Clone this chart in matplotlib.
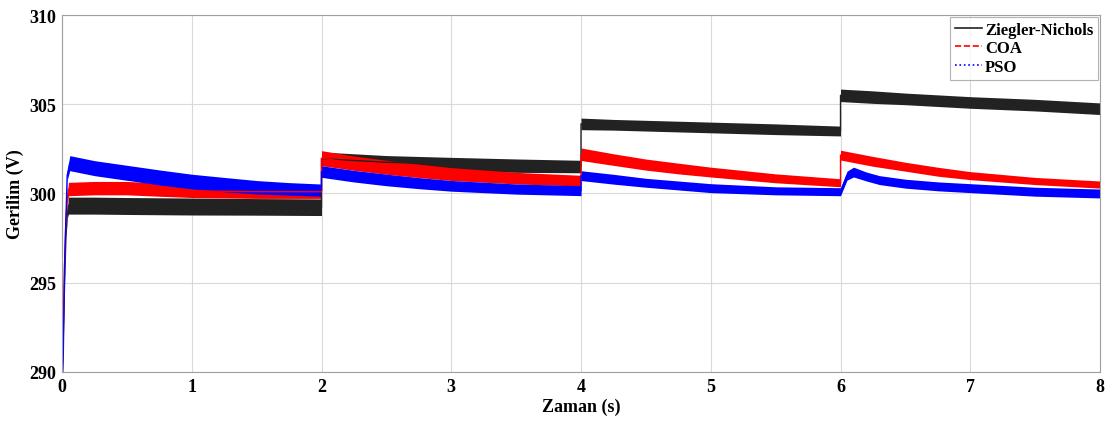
import matplotlib
matplotlib.use("Agg")
import matplotlib.pyplot as plt
import numpy as np

plt.rcParams['font.family'] = ['Liberation Serif', 'DejaVu Serif']
plt.rcParams['font.weight'] = 'bold'

# values: time (s), centre of ripple band (V), band width (V)
zn_t = [0, 0.02, 0.03, 0.04, 0.05, 0.25, 0.5, 1.0, 1.5, 2.0,
        2.0, 2.25, 2.5, 3.0, 3.5, 4.0,
        4.0, 4.25, 4.5, 5.0, 5.5, 6.0,
        6.0, 6.25, 6.5, 7.0, 7.5, 8.0]
zn_v = [289, 295, 297.5, 298.8, 299.32, 299.32, 299.3, 299.27, 299.25, 299.23,
        301.95, 301.85, 301.75, 301.65, 301.56, 301.51,
        303.9, 303.85, 303.8, 303.7, 303.6, 303.5,
        305.5, 305.4, 305.3, 305.1, 304.95, 304.75]
zn_w = [0, 0, 0, 0.4, 0.95, 0.95, 0.95, 0.95, 0.93, 0.93,
        0.75, 0.75, 0.75, 0.75, 0.75, 0.7,
        0.65, 0.6, 0.6, 0.6, 0.6, 0.55,
        0.7, 0.7, 0.65, 0.65, 0.65, 0.65]

coa_t = [0, 0.02, 0.03, 0.04, 0.05, 0.25, 0.5, 0.75, 1.0, 1.5, 2.0,
         2.0, 2.25, 2.5, 2.75, 3.0, 3.5, 4.0,
         4.0, 4.25, 4.5, 4.75, 5.0, 5.5, 6.0,
         6.0, 6.25, 6.5, 6.75, 7.0, 7.5, 8.0]
coa_v = [289, 296, 298.5, 299.6, 300.25, 300.3, 300.3, 300.22, 300.15, 300.1, 300.1,
         301.98, 301.7, 301.47, 301.27, 301.09, 300.86, 300.72,
         302.2, 301.9, 301.62, 301.4, 301.2, 300.85, 300.6,
         302.15, 301.8, 301.5, 301.22, 301.0, 300.7, 300.5]
coa_w = [0, 0, 0, 0.5, 0.75, 0.75, 0.75, 0.75, 0.75, 0.75, 0.75,
         0.84, 0.8, 0.78, 0.75, 0.72, 0.65, 0.6,
         0.7, 0.65, 0.62, 0.6, 0.55, 0.5, 0.45,
         0.55, 0.55, 0.5, 0.5, 0.45, 0.4, 0.4]

pso_t = [0, 0.01, 0.02, 0.04, 0.06, 0.25, 0.5, 0.75, 1.0, 1.25, 1.5, 1.75, 2.0,
         2.0, 2.25, 2.5, 2.75, 3.0, 3.5, 4.0,
         4.0, 4.25, 4.5, 4.75, 5.0, 5.5, 6.0,
         6.0, 6.05, 6.1, 6.2, 6.3, 6.5, 6.75, 7.0, 7.5, 8.0]
pso_v = [289, 291, 296, 301.0, 301.7, 301.42, 301.16, 300.9, 300.67, 300.5, 300.35, 300.26, 300.19,
         301.23, 300.97, 300.76, 300.58, 300.43, 300.25, 300.16,
         301.0, 300.8, 300.6, 300.45, 300.3, 300.15, 300.1,
         300.1, 301.0, 301.2, 300.95, 300.75, 300.55, 300.4, 300.3, 300.1, 300.0]
pso_w = [0, 0, 0, 0.5, 0.84, 0.84, 0.84, 0.84, 0.82, 0.8, 0.75, 0.7, 0.68,
         0.65, 0.65, 0.65, 0.62, 0.6, 0.57, 0.56,
         0.55, 0.55, 0.5, 0.5, 0.5, 0.45, 0.45,
         0.45, 0.5, 0.55, 0.5, 0.5, 0.5, 0.5, 0.5, 0.5, 0.5]

series = [
    ("Ziegler-Nichols", zn_t, zn_v, zn_w, "#222222", "-"),
    ("COA", coa_t, coa_v, coa_w, "#ff0000", "--"),
    ("PSO", pso_t, pso_v, pso_w, "#0000ff", ":"),
]

fig = plt.figure(figsize=(11.07, 4.27), dpi=100)
ax = fig.add_axes([0.056, 0.1265, 0.9377, 0.836])

handles = []
for name, t, v, w, col, ls in series:
    t = np.array(t)
    v = np.array(v)
    w = np.array(w)
    ax.fill_between(t, v - w / 2, v + w / 2, color=col, lw=0)
    ax.plot(t, v, color=col, lw=1.0)
    h, = ax.plot([], [], color=col, ls=ls, lw=1.2, label=name)
    handles.append(h)

ax.set_xlim(0, 8)
ax.set_ylim(290, 310)
ax.set_xticks(range(0, 9))
ax.set_yticks([290, 295, 300, 305, 310])
ax.grid(True, color="#d9d9d9", lw=0.8)
ax.set_axisbelow(True)
for s in ax.spines.values():
    s.set_color("#a0a0a0")
ax.tick_params(length=0, labelsize=13, pad=4)
for lab in ax.get_xticklabels() + ax.get_yticklabels():
    lab.set_fontweight("bold")

ax.set_xlabel("Zaman (s)", fontsize=13, fontweight="bold", labelpad=2)
ax.set_ylabel("Gerilim (V)", fontsize=13, fontweight="bold", labelpad=4)

leg = ax.legend(handles=handles, loc="upper right", fontsize=12, frameon=True,
                fancybox=False, borderaxespad=0.1, handlelength=1.6,
                handletextpad=0.2, labelspacing=0.15, borderpad=0.3)
leg.get_frame().set_edgecolor("#a0a0a0")
leg.get_frame().set_linewidth(0.8)
for txt in leg.get_texts():
    txt.set_fontweight("bold")

fig.savefig("out.png", dpi=100)
